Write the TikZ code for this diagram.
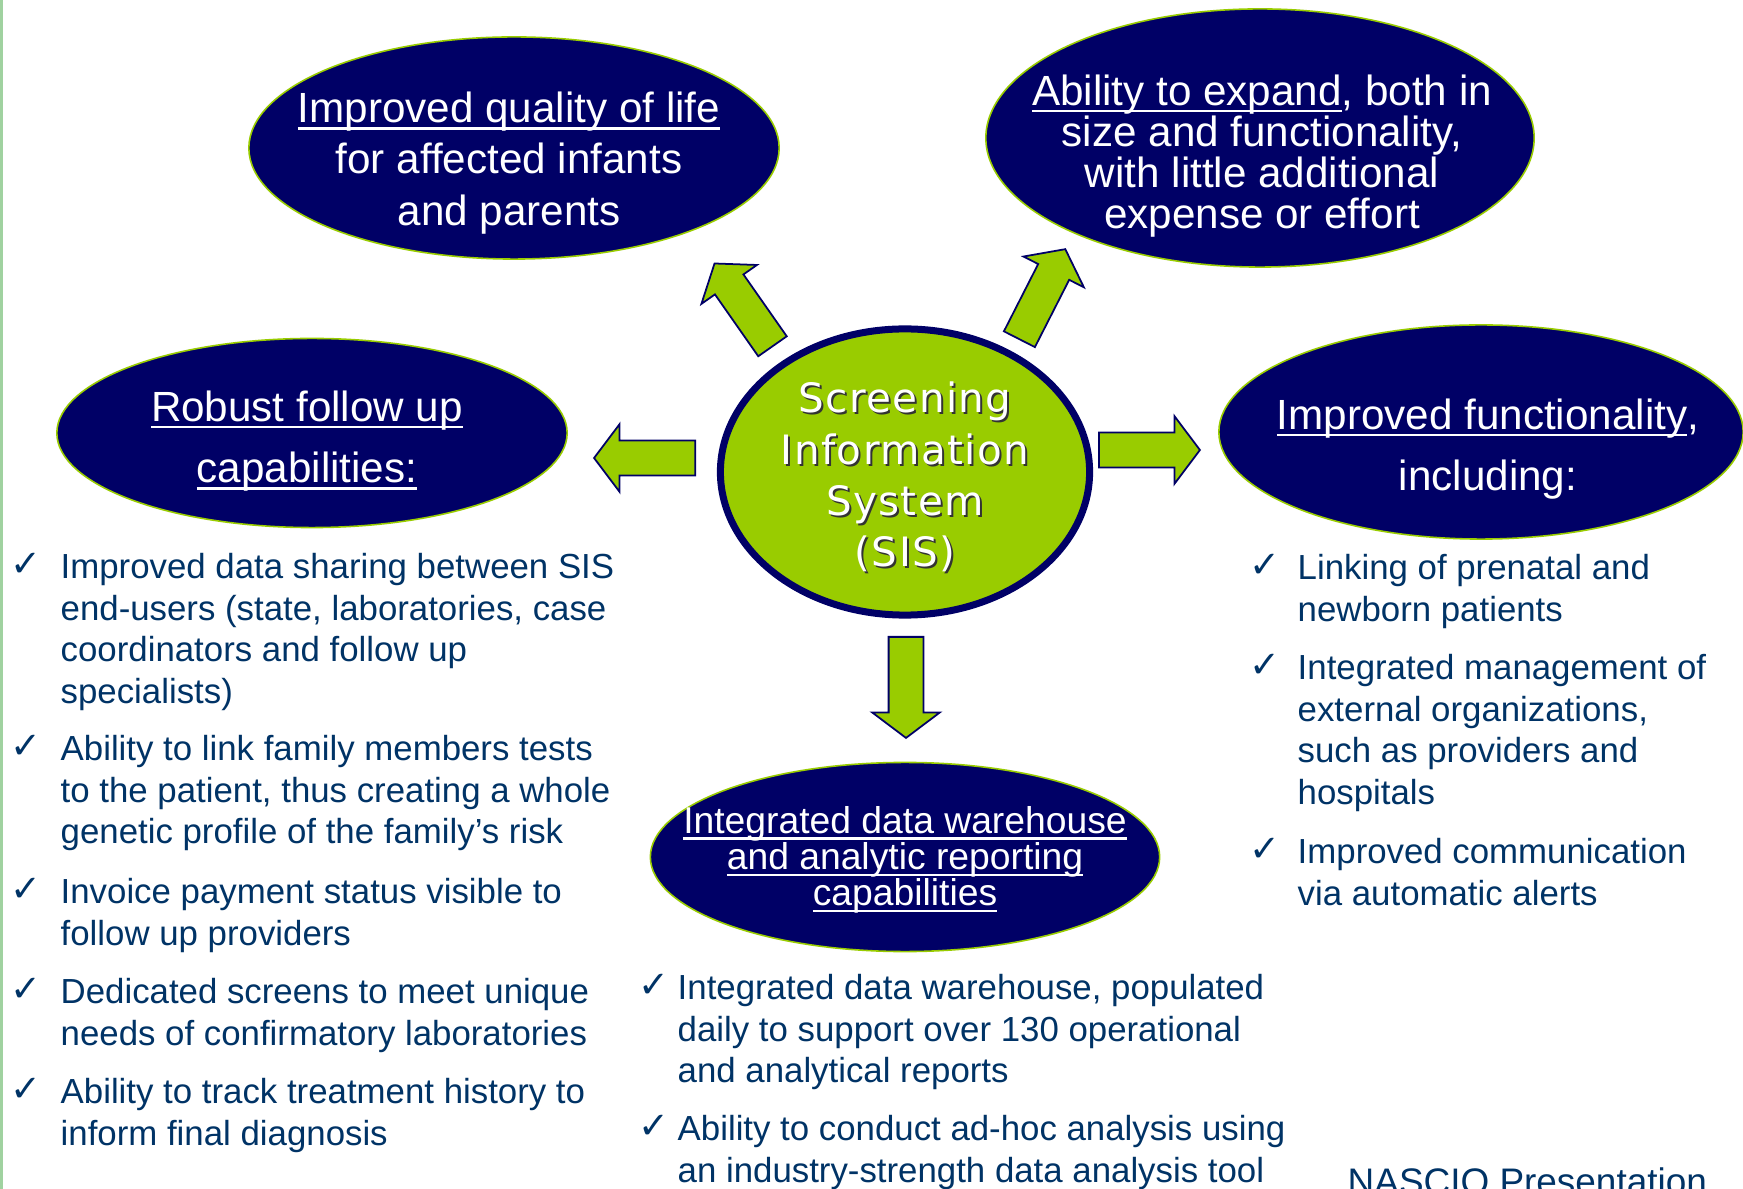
\documentclass[tikz,border=0pt]{standalone}
\usepackage{fontspec}
\setmainfont{Liberation Sans}
\newfontfamily\sisfont[LetterSpace=3.5]{DejaVu Sans}
\newfontfamily\tickfont{DejaVu Sans}
\usetikzlibrary{shapes.geometric, shapes.arrows}

\definecolor{sisnavy}{HTML}{000066}
\definecolor{sislime}{HTML}{99CC00}
\definecolor{listblue}{HTML}{003366}
\definecolor{edgegreen}{HTML}{A0D2A0}

% underline at a fixed depth, running through the descenders
\newcommand\undertext[1]{\setbox0=\hbox{#1}\rlap{\rule[-0.17em]{\wd0}{0.065em}}\box0}
% check mark hanging left of a list item
\newcommand\tick[1]{\llap{\raisebox{0.02cm}{\tickfont\fontsize{10.5}{10.5}\selectfont ✓}\hspace{#1}}}

\begin{document}
\begin{tikzpicture}[
  x=0.01cm, y=-0.01cm,
  bubble/.style={ellipse, draw=sislime, line width=0.45pt, fill=sisnavy, inner sep=0pt},
  bubbletext/.style={text=white, align=center, inner sep=0pt},
  flow/.style={single arrow, draw=sisnavy, fill=sislime, line width=0.5pt,
               minimum height=1.01cm, minimum width=0.66cm,
               single arrow head extend=0.165cm, single arrow tip angle=106,
               inner xsep=0pt, inner ysep=0.165cm, anchor=tail},
  sistext/.style={align=center, inner sep=0pt, font=\sisfont\fontsize{11.5}{14.6}\selectfont},
  item/.style={anchor=north west, inner sep=0pt, align=left, text=listblue,
               font=\fontsize{9.9}{11.8}\selectfont, execute at begin node=\strut}
]
  \clip (0,0) rectangle (1743,1189);
  \fill[white] (0,0) rectangle (1743,1189);
  \fill[edgegreen] (0,0) rectangle (3,1189);

  % centre
  \node[ellipse, draw=sisnavy, line width=0.07cm, fill=sislime, inner sep=0pt,
        minimum width=3.69cm, minimum height=2.86cm] (sis) at (905,472) {};
  \node[sistext, text=black!80] (sisshadow) at (907,479)
    {Screening\\Information\\System\\(SIS)};
  \node[sistext, text=white] (sislabel) at ([shift={(-2,-2)}]sisshadow)
    {Screening\\Information\\System\\(SIS)};

  % outcomes
  \node[bubble, minimum width=5.30cm, minimum height=2.22cm] (quality) at (514,148) {};
  \node[bubbletext, font=\fontsize{12}{14.6}\selectfont] (qualitytext) at (509,163)
    {\undertext{Improved quality of life}\\for affected infants\\and parents};

  \node[bubble, minimum width=5.48cm, minimum height=2.58cm] (expand) at (1260,138) {};
  \node[bubbletext, font=\fontsize{12}{11.7}\selectfont] (expandtext) at (1262,156)
    {\undertext{Ability to expand}, both in\\size and functionality,\\with little additional\\expense or effort};

  \node[bubble, minimum width=5.10cm, minimum height=1.89cm] (followup) at (312,433) {};
  \node[bubbletext, font=\fontsize{12}{17.4}\selectfont] (followuptext) at (307,441)
    {\undertext{Robust follow up}\\\undertext{capabilities:}};

  \node[bubble, minimum width=5.24cm, minimum height=2.14cm] (function) at (1481,432) {};
  \node[bubbletext, font=\fontsize{12}{17.4}\selectfont] (functiontext) at (1488,449)
    {\undertext{Improved functionality},\\including:};

  \node[bubble, minimum width=5.09cm, minimum height=1.89cm] (warehouse) at (905,857) {};
  \node[bubbletext, font=\fontsize{10.6}{10.3}\selectfont] (warehousetext) at (905,860)
    {\undertext{Integrated data warehouse}\\\undertext{and analytic reporting}\\\undertext{capabilities}};

  % block arrows out of the centre
  \node[flow, rotate=125] (toquality) at (773,347) {};
  \node[flow, rotate=63] (toexpand) at (1019,340) {};
  \node[flow, rotate=180] (tofollowup) at (696,458) {};
  \node[flow] (tofunction) at (1098,450) {};
  \node[flow, rotate=-90] (towarehouse) at (906,636) {};

  % follow up list
  \node[item] (follow1) at (60,553) {\tick{0.19cm}Improved data sharing between SIS\\end-users (state, laboratories, case\\coordinators and follow up\\specialists)};
  \node[item] (follow2) at (60,735) {\tick{0.19cm}Ability to link family members tests\\to the patient, thus creating a whole\\genetic profile of the family’s risk};
  \node[item] (follow3) at (60,878) {\tick{0.19cm}Invoice payment status visible to\\follow up providers};
  \node[item] (follow4) at (60,978) {\tick{0.19cm}Dedicated screens to meet unique\\needs of confirmatory laboratories};
  \node[item] (follow5) at (60,1078) {\tick{0.19cm}Ability to track treatment history to\\inform final diagnosis};

  % functionality list
  \node[item] (func1) at (1297,554) {\tick{0.17cm}Linking of prenatal and\\newborn patients};
  \node[item] (func2) at (1297,654) {\tick{0.17cm}Integrated management of\\external organizations,\\such as providers and\\hospitals};
  \node[item] (func3) at (1297,838) {\tick{0.17cm}Improved communication\\via automatic alerts};

  % warehouse list
  \node[item] (dw1) at (677,974) {\tick{0.08cm}Integrated data warehouse, populated\\daily to support over 130 operational\\and analytical reports};
  \node[item] (dw2) at (677,1115) {\tick{0.08cm}Ability to conduct ad-hoc analysis using\\an industry-strength data analysis tool};

  \node[anchor=base west, inner sep=0pt, text=listblue, font=\fontsize{10.5}{12}\selectfont]
    (footer) at (1347,1194) {NASCIO Presentation};
\end{tikzpicture}
\end{document}
